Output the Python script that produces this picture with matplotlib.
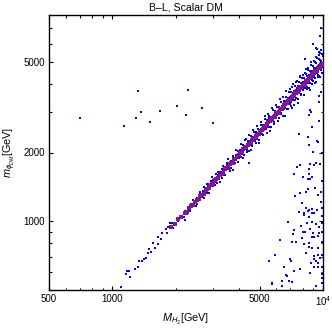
import matplotlib
matplotlib.use("Agg")
import matplotlib.pyplot as plt
from matplotlib.ticker import FixedLocator, NullFormatter, FixedFormatter

plt.rcParams['font.family'] = ['Liberation Sans', 'DejaVu Sans']
plt.rcParams['mathtext.fontset'] = 'custom'
plt.rcParams['mathtext.it'] = 'Liberation Sans:italic'
plt.rcParams['mathtext.rm'] = 'Liberation Sans'

# ---- data (GeV) ----
# blue points along the resonance band m ~ M/2
band_M = [1095, 1157, 1174, 1200, 1209, 1281, 1328, 1339, 1378, 1417, 1437, 1471, 1497, 1520,
          1564, 1593, 1652, 1652, 1702, 1727, 1792, 1812, 1844, 1878, 1914, 1900, 1950, 1998,
          2054, 2148, 2189, 2204,
          2210, 2250, 2280, 2300, 2340, 2370, 2400, 2420, 2460, 2490, 2520, 2550, 2580, 2610,
          2640, 2680, 2700, 2730, 2760, 2790, 2820, 2850, 2880, 2910, 2940, 2970, 3000, 3030,
          3060, 3090, 3120, 3150, 3180, 3210, 3240, 3270, 3300, 3330, 3360, 3400, 3430, 3460,
          3490, 3520, 3560, 3590, 3620, 3650, 3690, 3720, 3760, 3790, 3830, 3860, 3900, 3940, 3970,
          4010, 4040, 4070, 4100, 4130, 4160, 4190, 4220, 4250, 4280, 4310, 4340, 4370, 4400,
          4430, 4460, 4490, 4520, 4550, 4580, 4610, 4640, 4670, 4700, 4730, 4760, 4790, 4820,
          4850, 4880, 4910, 4940, 4970, 5000, 5040, 5080, 5120, 5160, 5200, 5240, 5280, 5320,
          5360, 5400, 5440, 5480, 5520, 5560, 5600, 5640, 5680, 5720, 5760, 5800, 5840, 5880,
          5920, 5960, 6000, 6050, 6100, 6150, 6200, 6250, 6300, 6350, 6400, 6450, 6500, 6550,
          6600, 6650, 6700, 6750, 6800, 6850, 6900, 6950,
          7000, 7040, 7080, 7120, 7160, 7200, 7240, 7280, 7320, 7360, 7400, 7440, 7480, 7520,
          7560, 7600, 7640, 7680, 7720, 7760, 7800, 7840, 7880, 7920, 7960, 8000, 8040, 8080,
          8120, 8160, 8200, 8240, 8280, 8320, 8360, 8400, 8440, 8480, 8520, 8560, 8600, 8640,
          8680, 8720, 8760, 8800, 8840, 8880, 8920, 8960, 9000, 9040, 9080, 9120, 9160, 9200,
          9240, 9280, 9320, 9360, 9400, 9440, 9480, 9520, 9560, 9600, 9640, 9680, 9720, 9760,
          9800, 9840, 9880, 9920, 9960, 9990]
band_m = [517, 586, 604, 604, 571, 616, 632, 672, 672, 684, 689, 724, 754, 735,
          805, 763, 795, 856, 834, 891, 922, 891, 946, 979, 979, 937, 937, 985,
          1007, 1040, 1047, 1012,
          1105, 1080, 1151, 1127, 1112, 1185, 1164, 1234, 1205, 1170, 1260, 1262, 1238, 1318,
          1294, 1273, 1350, 1406, 1339, 1367, 1325, 1425, 1426, 1397, 1499, 1455, 1425, 1515,
          1484, 1607, 1529, 1465, 1590, 1541, 1636, 1602, 1551, 1698, 1663, 1632, 1715, 1678,
          1797, 1725, 1691, 1795, 1665, 1843, 1808, 1934, 1805, 1876, 1800, 1949, 1911, 2029, 1886,
          1965, 2060, 1913, 2050, 1982, 2163, 2074, 1941, 2146, 2076, 2284, 2127, 2054, 2244,
          2193, 2029, 2245, 2170, 2366, 2244, 2144, 2343, 2265, 2468, 2247, 2380, 2203, 2458,
          2377, 2294, 2529, 2445, 2261, 2500, 2419, 2642, 2509, 2399, 2626, 2541, 2798, 2527,
          2680, 2430, 2774, 2685, 2594, 2891, 2772, 2594, 2868, 2774, 3082, 2755, 2920, 2675,
          3049, 2920, 2820, 3176, 3020, 2829, 3162, 3031, 3339, 2985, 3200, 2903, 3348, 3210,
          3135, 3491, 3350, 3105, 3468, 3322, 3692, 3267,
          3500, 3203, 3682, 3453, 3866, 3384, 3656, 3240, 3733, 3606, 3922, 3460, 3740, 4098,
          3591, 3914, 3438, 3802, 4053, 3725, 4290, 3606, 4019, 3881, 4259, 3760, 4060, 3555,
          4222, 3958, 4469, 3832, 4140, 4410, 3804, 4326, 4136, 4579, 4047, 4366, 3827, 4536,
          4297, 4011, 4818, 4224, 4553, 4174, 4772, 4480, 4095, 4701, 4404, 4970, 4259, 4692,
          4066, 4918, 4567, 5195, 4465, 4767, 4361, 5141, 4732, 4320, 5061, 4695, 5443, 4587,
          5047, 4477, 5385, 4861, 5279, 4745]

# further blue band points (wider spread at high mass)
band2_M = [2530, 2620, 2710, 2800, 2890, 2980, 3070, 3160, 3250, 3340, 3440, 3540, 3640, 3740,
           3850, 3950, 4060, 4160, 4260, 4360, 4460, 4560, 4660, 4760, 4860, 4960, 5060, 5170,
           5280, 5390, 5500, 5620, 5740, 5860, 5980, 6100, 6220, 6340, 6460, 6580, 6700, 6830,
           6960, 7090, 7220, 7350, 7480, 7610, 7740, 7870, 8000, 8130, 8260, 8390, 8520, 8650,
           8780, 8910, 9040, 9170, 9300, 9430, 9560, 9690, 9820, 9950,
           3010, 3510, 4020, 4530, 5030, 5550, 6020, 6520, 7020, 7520, 8020, 8520, 9020, 9520]
band2_m = [1189, 1349, 1260, 1456, 1329, 1565, 1443, 1643, 1479, 1754, 1600, 1876, 1711, 1683,
           2041, 1817, 2172, 1893, 2258, 2006, 2386, 2052, 2516, 2237, 2600, 2207, 2732, 2378,
           2878, 2533, 2943, 2473, 3128, 2725, 3229, 2745, 3421, 2948, 3488, 2895, 3719, 3108,
           3793, 3120, 4007, 3381, 4077, 3310, 4334, 3581, 4360, 3577, 4626, 3859, 4686, 3763,
           4961, 4010, 5017, 4035, 5255, 4291, 5354, 4264, 5597, 4478,
           1520, 1790, 1930, 2288, 2389, 2831, 2920, 3293, 3335, 3835, 3850, 4303, 4285, 4855]

# red (dense) points on the resonance line
red_M = [1900, 1980, 2060, 2120, 2200, 2260, 2320, 2370, 2420, 2470, 2520, 2570, 2620, 2670,
         2720, 2770, 2820, 2870, 2920, 2970, 3020, 3070, 3120, 3180, 3240, 3300, 3360, 3420,
         3480, 3540, 3600, 3660, 3720, 3780, 3840, 3900, 3970, 4040, 4110, 4180, 4250, 4320,
         4390, 4460, 4530, 4600, 4670, 4740, 4810, 4880, 4950, 5030, 5110, 5190, 5270, 5350,
         5430, 5510, 5590, 5670, 5750, 5830, 5910, 6000, 6090, 6180, 6270, 6360, 6450, 6540,
         6630, 6720, 6810, 6900, 7000, 7100, 7200, 7300, 7400, 7500, 7600, 7700, 7800, 7900,
         8000, 8100, 8200, 8300, 8400, 8500, 8600, 8700, 8800, 8900, 9000, 9100, 9200, 9300,
         9400, 9500, 9600, 9700, 9800, 9900, 9990]
red_m = [941, 970, 1020, 1039, 1082, 1103, 1146, 1161, 1176, 1220, 1235, 1254, 1292, 1308,
         1322, 1368, 1382, 1401, 1440, 1455, 1468, 1517, 1529, 1552, 1597, 1617, 1633, 1689,
         1705, 1728, 1775, 1793, 1808, 1867, 1882, 1903, 1957, 1980, 1997, 2065, 2083, 2108,
         2164, 2185, 2202, 2272, 2288, 2313, 2371, 2391, 2406, 2485, 2504, 2533, 2598, 2622,
         2639, 2722, 2739, 2767, 2835, 2857, 2872, 2964, 2984, 3016, 3091, 3116, 3135, 3231,
         3249, 3279, 3357, 3381, 3402, 3507, 3528, 3562, 3648, 3675, 3694, 3804, 3822, 3855,
         3944, 3969, 3985, 4100, 4116, 4148, 4240, 4263, 4277, 4397, 4410, 4441, 4536, 4557,
         4568, 4693, 4704, 4734, 4831, 4851, 4875]

# isolated blue points away from the band
scat_M = [699, 1131, 1319, 1299, 1367, 1514, 1677, 2027, 2286, 2243, 2655, 3003, 4453,
          9680, 9265, 9000, 9810, 9572, 9335, 8200,
          9610, 8770, 9785, 9610, 8677, 8610, 8900, 7668, 8517, 9440, 9610,
          8580, 9340, 8940, 9860, 9240, 9095, 9680, 8677, 7800, 7550, 8580, 7285, 8580, 8035,
          8460, 8650, 8840, 9860, 8460, 9165, 7800, 8270, 9785, 9440, 7365, 7925, 9750, 8270,
          8583, 8840, 9335, 7670, 8900, 9095, 8125, 9860, 8517, 8610, 8125, 9860, 6800, 8360,
          8840, 9236, 9860, 7865, 9570, 7260, 7180, 8065, 8200, 8677, 9000, 9572, 9860, 7924,
          8840, 9067, 9500, 6230, 7100, 7445, 8150, 8583, 9860, 8900, 9438, 8583, 8270, 5915,
          9095, 9438, 9860, 9030, 9236, 9710, 5540, 6950, 7025, 8770, 9500, 7778, 7310, 6510,
          9095, 9438, 9860, 8677, 6640, 6733, 9860, 6370, 6895, 7103, 5745, 6368, 9236, 9860,
          9860, 5730, 6755]
scat_m = [2823, 2620, 3718, 2823, 3000, 2712, 3048, 3206, 3753, 2927, 3143, 2686, 1805,
          6450, 5715, 5950, 6996, 5525, 5694, 5133,
          3317, 3017, 3690, 3535, 3070, 2927, 2594, 2410, 2346, 2230, 2755,
          2150, 2245, 2015, 1985, 1805, 1763, 1775, 1782, 1758, 1722, 1688, 1605, 1615, 1557,
          1530, 1535, 1566, 1500, 1388, 1398, 1325, 1343, 1347, 1307, 1290, 1198, 1211, 1143,
          1120, 1135, 1120, 1101, 1090, 1083, 1083, 1139, 1112, 1040, 1068, 1055, 992, 979,
          992, 972, 979, 953, 940, 915, 879, 899, 897, 921, 885, 891, 894, 845,
          857, 851, 862, 828, 811, 811, 795, 801, 814, 763, 763, 769, 723, 713,
          704, 713, 708, 681, 667, 690, 669, 683, 669, 654, 658, 620, 608, 631,
          633, 629, 633, 595, 584, 578, 586, 547, 549, 543, 535, 522, 522, 563,
          538, 532, 576]

x_major = [500, 1000, 5000, 10000]
x_major_labels = ['500', '1000', '5000', r'$10^4$']
x_minor = [600, 700, 800, 900, 2000, 3000, 4000, 6000, 7000, 8000, 9000]
y_major = [1000, 2000, 5000]
y_major_labels = ['1000', '2000', '5000']
y_minor = [500, 600, 700, 800, 900, 3000, 4000, 6000, 7000, 8000]

# ---- figure ----
fig = plt.figure(figsize=(3.32, 3.29), dpi=100)
ax = fig.add_axes([49/332, 1-290/329, 274/332, 275/329])
ax.set_xscale('log')
ax.set_yscale('log')

blue = '#0000ff'
ax.plot(scat_M, scat_m, 's', color=blue, ms=1.6, mew=0, zorder=2)
ax.plot(band_M, band_m, 's', color=blue, ms=1.8, mew=0, zorder=2)
ax.plot(band2_M, band2_m, 's', color=blue, ms=1.8, mew=0, zorder=2)
ax.plot(red_M, red_m, 's', color='#84188a', ms=2.8, mew=0, zorder=3)

ax.set_xlim(500, 10000)
ax.set_ylim(500, 8000)

ax.xaxis.set_major_locator(FixedLocator(x_major))
ax.xaxis.set_major_formatter(FixedFormatter(x_major_labels))
ax.xaxis.set_minor_locator(FixedLocator(x_minor))
ax.xaxis.set_minor_formatter(NullFormatter())
ax.yaxis.set_major_locator(FixedLocator(y_major))
ax.yaxis.set_major_formatter(FixedFormatter(y_major_labels))
ax.yaxis.set_minor_locator(FixedLocator(y_minor))
ax.yaxis.set_minor_formatter(NullFormatter())

ax.tick_params(which='both', direction='in', top=True, right=True, width=0.8, labelsize=7, pad=3)
ax.tick_params(which='major', length=3.0)
ax.tick_params(which='minor', length=1.8)
for s in ax.spines.values():
    s.set_linewidth(1.0)

ax.set_title('B\u2013L, Scalar DM', fontsize=7.6, pad=3)
ax.set_xlabel(r'$M_{H_2}$[GeV]', fontsize=7.8, labelpad=3)
ax.set_ylabel(r'$m_{\phi_{DM}}$[GeV]', fontsize=7.8, labelpad=4)

fig.savefig('out.png', dpi=100)
